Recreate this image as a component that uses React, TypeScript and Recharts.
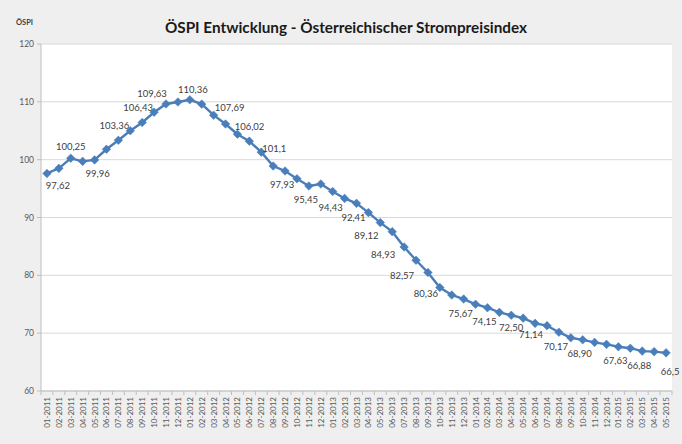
import React from "react";
import { LineChart, Line, XAxis, YAxis, CartesianGrid } from "recharts";

const months: string[] = [
  "01-2011","02-2011","03-2011","04-2011","05-2011","06-2011","07-2011","08-2011","09-2011","10-2011","11-2011","12-2011",
  "01-2012","02-2012","03-2012","04-2012","05-2012","06-2012","07-2012","08-2012","09-2012","10-2012","11-2012","12-2012",
  "01-2013","02-2013","03-2013","04-2013","05-2013","06-2013","07-2013","08-2013","09-2013","10-2013","11-2013","12-2013",
  "01-2014","02-2014","03-2014","04-2014","05-2014","06-2014","07-2014","08-2014","09-2014","10-2014","11-2014","12-2014",
  "01-2015","02-2015","03-2015","04-2015","05-2015",
];

const ospi: number[] = [
  97.62, 98.5, 100.25, 99.7, 99.96, 101.8, 103.36, 105.0, 106.43, 108.2, 109.63, 109.97,
  110.36, 109.6, 107.69, 106.17, 104.4, 103.2, 101.3, 98.9, 98.05, 96.7, 95.45, 95.8,
  94.5, 93.3, 92.45, 90.85, 89.12, 87.55, 84.9, 82.6, 80.5, 77.9, 76.6, 75.9,
  75.0, 74.4, 73.6, 73.1, 72.6, 71.7, 71.3, 70.17, 69.2, 68.85, 68.4, 68.07,
  67.65, 67.4, 66.9, 66.8, 66.6,
];

const labels: string[] = [
  "97,62", "", "100,25", "", "99,96", "", "103,36", "", "106,43", "", "109,63", "",
  "110,36", "", "107,69", "106,02", "", "", "101,1", "", "97,93", "", "95,45", "",
  "94,43", "", "92,41", "", "89,12", "", "84,93", "82,57", "80,36", "", "", "75,67",
  "", "74,15", "", "", "72,50", "", "71,14", "70,17", "", "68,90", "", "",
  "67,63", "", "66,88", "", "66,5",
];

const yTicks: number[] = [60, 70, 80, 90, 100, 110, 120];

const data = months.map((m, i) => ({ month: m, value: ospi[i], label: labels[i] }));

const W = 682;
const H = 444;
const M = { top: 44, right: 10, left: 0, bottom: 0 };
const Y_W = 41;
const X_H = 53;
const BAND = (W - Y_W - M.right) / months.length;
const BLUE = "#4a7ebb";
const FONT = "Lato, 'Open Sans', sans-serif";

function labelOffset(i: number): [number, number] {
  if (i === 0) return [11, 12];
  if (i === 4) return [3, 14];
  if (i === 2) return [0, -12];
  if (i === 10) return [-14, -10];
  if (i === 12) return [3, -10];
  if (i < 12) return [-4, -15];
  if (i === 14) return [16, -8];
  if (i === 15) return [24, 3];
  if (i === 18) return [13, -4];
  if (i === 52) return [4, 19];
  if (i === 24) return [-2, 16];
  if (i === 28) return [-14, 13];
  if (i === 30) return [-21, 8];
  if (i === 31) return [-14, 15];
  if (i === 32) return [-2, 21];
  if (i === 40) return [-12, 9];
  if (i === 42) return [-16, 9];
  return [-3, 14];
}

const Dot = (props: any) => {
  const { cx, cy, index, payload } = props;
  if (cx == null || cy == null) return <g key={`d${index}`} />;
  const r = 4.3;
  const lab = payload?.label;
  const [dx, dy] = labelOffset(index);
  return (
    <g key={`d${index}`}>
      <path d={`M${cx},${cy - r}L${cx + r},${cy}L${cx},${cy + r}L${cx - r},${cy}Z`} fill={BLUE} stroke={BLUE} strokeWidth={0.5} />
      {lab ? (
        <text x={cx + dx} y={cy + dy} textAnchor="middle" dominantBaseline="central" fontSize={9.5} fill="#404040" fontFamily={FONT}>
          {lab}
        </text>
      ) : null}
    </g>
  );
};

const XTick = (props: any) => {
  const { x, y, payload, index } = props;
  const last = index === months.length - 1;
  return (
    <g>
      <line x1={x - BAND / 2} x2={x - BAND / 2} y1={y} y2={y + 4} stroke="#bfbfbf" />
      {last ? <line x1={x + BAND / 2} x2={x + BAND / 2} y1={y} y2={y + 4} stroke="#bfbfbf" /> : null}
      <text
        transform={`translate(${x},${y + 6}) rotate(-90)`}
        textAnchor="end"
        dominantBaseline="central"
        fontSize={8}
        fill="#595959"
        fontFamily={FONT}
      >
        {payload.value}
      </text>
    </g>
  );
};

export default function App() {
  return (
    <div style={{ position: "absolute", left: 0, top: 0, width: W, height: H, background: "#efefef", fontFamily: FONT }}>
      <div style={{ position: "absolute", left: 0, top: 18, width: 692, textAlign: "center", fontSize: 15.3, fontWeight: 700, color: "#1a1a1a" }}>
        ÖSPI Entwicklung - Österreichischer Strompreisindex
      </div>
      <div style={{ position: "absolute", left: 16, top: 18, fontSize: 7.5, fontWeight: 700, color: "#404040" }}>ÖSPI</div>
      <LineChart width={W} height={H} data={data} margin={M} style={{ position: "absolute", left: 0, top: 0 }}>
        <CartesianGrid vertical={false} stroke="#d9d9d9" fill="#ffffff" />
        <XAxis
          dataKey="month"
          interval={0}
          height={X_H}
          tickSize={0}
          tickMargin={0}
          padding={{ left: BAND / 2, right: BAND / 2 }}
          tick={<XTick />}
          axisLine={{ stroke: "#bfbfbf" }}
        />
        <YAxis
          domain={[60, 120]}
          ticks={yTicks}
          width={Y_W}
          tickSize={4}
          tickMargin={3}
          interval={0}
          axisLine={{ stroke: "#bfbfbf" }}
          tickLine={{ stroke: "#bfbfbf" }}
          tick={{ fontSize: 8.5, fill: "#595959", fontFamily: FONT }}
        />
        <Line
          type="linear"
          dataKey="value"
          stroke={BLUE}
          strokeWidth={2.4}
          dot={Dot}
          activeDot={false}
          isAnimationActive={false}
        />
      </LineChart>
    </div>
  );
}
